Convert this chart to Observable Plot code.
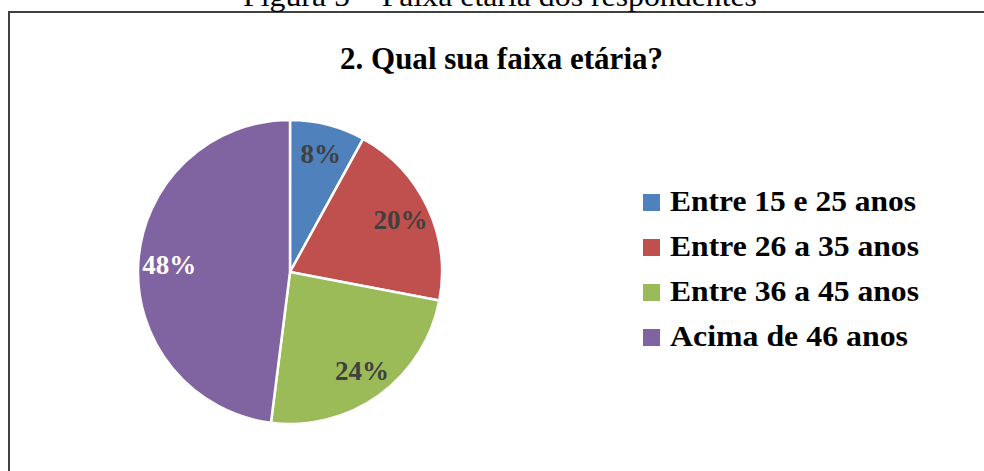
<!DOCTYPE html>
<html>
<head>
<meta charset="utf-8">
<script src="https://cdn.jsdelivr.net/npm/d3@7"></script>
<script src="https://cdn.jsdelivr.net/npm/@observablehq/plot@0.6"></script>
<style>
  html, body { margin: 0; padding: 0; background: #fff; }
  #wrap { position: relative; width: 984px; height: 471px; overflow: hidden; background: #fff; }
  .t { position: absolute; white-space: nowrap; line-height: 1; transform-origin: 0 0; font-family: "Liberation Serif", "Times New Roman", Tinos, serif; color: #000; }
  #box { position: absolute; left: 8px; top: 11px; width: 1000px; height: 500px; border-left: 2px solid #404040; border-top: 2px solid #404040; }
  .sw { position: absolute; width: 17px; height: 17px; }
  #pie { position: absolute; left: 130px; top: 112px; }
</style>
</head>
<body>
<div id="wrap">
  <div id="box"></div>
</div>
<script>
// ---- data ----
const captionText = "Figura 5 – Faixa etária dos respondentes";
const titleText = "2. Qual sua faixa etária?";
const categories = ["Entre 15 e 25 anos", "Entre 26 a 35 anos", "Entre 36 a 45 anos", "Acima de 46 anos"];
const values = [8, 20, 24, 48];
const colors = ["#4F81BD", "#C0504D", "#9BBB59", "#8064A2"];
const labelColors = ["#404040", "#404040", "#404040", "#FFFFFF"];

const wrap = document.getElementById("wrap");
const SERIF = '"Liberation Serif", "Times New Roman", Tinos, serif';

// helper: place text with its baseline at y, left at x, stretched to width w
function placeText(txt, {x, baseline, w, size, weight = "normal", center = null}) {
  const el = document.createElement("div");
  el.className = "t";
  el.textContent = txt;
  el.style.fontFamily = SERIF;
  el.style.fontSize = size + "px";
  el.style.fontWeight = weight;
  el.style.top = (baseline - 0.8375 * size) + "px";
  el.style.left = "0px";
  wrap.appendChild(el);
  const nat = el.getBoundingClientRect().width;
  const s = w ? w / nat : 1;
  el.style.transform = `scaleX(${s})`;
  const left = center != null ? center - (nat * s) / 2 : x;
  el.style.left = left + "px";
  return el;
}

placeText(captionText, {x: 243, baseline: 6, w: 514, size: 30});
placeText(titleText, {x: 340, baseline: 68.3, w: 323, size: 32, weight: "bold"});

// ---- pie via Plot ----
const color = Plot.scale({color: {type: "ordinal", domain: categories, range: colors}});
const pie = d3.pie().sort(null).value(d => d.value);
const rows = categories.map((c, i) => ({cat: c, value: values[i], label: values[i] + "%", lc: labelColors[i]}));
const arcs = pie(rows);
const labels = arcs.map(a => {
  const mid = (a.startAngle + a.endAngle) / 2;
  return {x: 0.8 * Math.sin(mid), y: 0.8 * Math.cos(mid), label: a.data.label, lc: a.data.lc};
});

function slices(index, scales) {
  const cx = scales.x(0), cy = scales.y(0), r = scales.x(1) - cx;
  const g = d3.create("svg:g").attr("transform", `translate(${cx},${cy})`);
  const arc = d3.arc().innerRadius(0).outerRadius(r);
  g.selectAll("path").data(arcs).join("path")
    .attr("d", arc)
    .attr("fill", d => color.apply(d.data.cat))
    .attr("stroke", "#fff")
    .attr("stroke-width", 2.5)
    .attr("stroke-linejoin", "miter");
  return g.node();
}

const chart = Plot.plot({
  width: 320,
  height: 320,
  margin: 8,
  x: {domain: [-1, 1], axis: null},
  y: {domain: [-1, 1], axis: null},
  style: {background: "transparent", overflow: "visible", fontFamily: SERIF},
  marks: [
    slices,
    Plot.text(labels, {
      x: "x", y: "y", text: "label", fill: d => d.lc,
      fontSize: 27, fontWeight: "bold", fontFamily: SERIF
    })
  ]
});
chart.id = "pie";
wrap.appendChild(chart);

// ---- legend ----
const legendBaselines0 = 211.5, legendStep = 45;
categories.forEach((c, i) => {
  const b = legendBaselines0 + i * legendStep;
  const sw = document.createElement("div");
  sw.className = "sw";
  sw.style.left = "643px";
  sw.style.top = (b - 18) + "px";
  sw.style.background = color.apply(c);
  wrap.appendChild(sw);
});
const legendWidths = [246, 249, 249, 238];
categories.forEach((c, i) => {
  placeText(c, {x: 670, baseline: legendBaselines0 + i * legendStep, w: legendWidths[i], size: 30, weight: "bold"});
});
</script>
</body>
</html>
